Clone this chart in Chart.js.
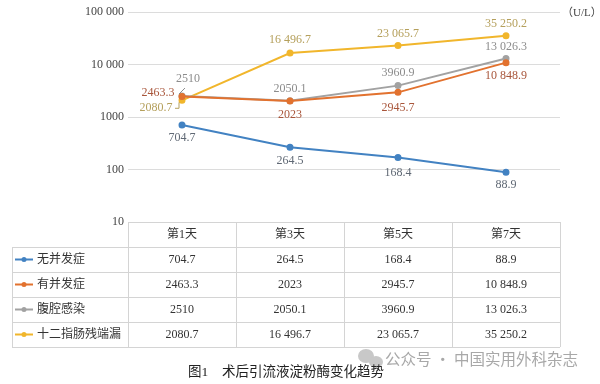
<!DOCTYPE html>
<html>
<head>
<meta charset="utf-8">
<script src="https://cdn.jsdelivr.net/npm/chart.js@4.4.1/dist/chart.umd.min.js"></script>
<style>
  html, body { margin: 0; padding: 0; background: #fff; }
  #wrap { width: 600px; height: 384px; position: relative; }
</style>
</head>
<body>
<div id="wrap"><canvas id="amyChart" width="600" height="384"></canvas></div>
<script>
// data
const days = ['第1天', '第3天', '第5天', '第7天'];
const seriesNames = ['无并发症', '有并发症', '腹腔感染', '十二指肠残端漏'];
const noComplication = [704.7, 264.5, 168.4, 88.9];
const withComplication = [2463.3, 2023, 2945.7, 10848.9];
const abdominalInfection = [2510, 2050.1, 3960.9, 13026.3];
const duodenalLeak = [2080.7, 16496.7, 23065.7, 35250.2];
const yTicks = [10, 100, 1000, 10000, 100000];

// styling
const lineColors = ['#4282c2', '#e2722f', '#a2a2a2', '#f1b62c'];
const labelColors = ['#5f6874', '#a8553a', '#8c8c8c', '#b5a05c'];
// label offsets (dx, dy) from each point
const labelOffsets = [
  [[0, 13], [0, 14], [0, 15], [0, 13]],
  [[-24, -4], [0, 14], [0, 15], [0, 13]],
  [[6, -17], [0, -12], [0, -13], [0, -12]],
  [[-26, 8], [0, -13], [0, -12], [0, -12]]
];
const allSeries = [noComplication, withComplication, abdominalInfection, duodenalLeak];

const SERIF = '"Liberation Serif", "Noto Sans CJK SC", serif';

function fmt(v) {
  let s = String(v);
  let parts = s.split('.');
  if (Math.abs(v) >= 10000) {
    parts[0] = parts[0].replace(/\B(?=(\d{3})+(?!\d))/g, ' ');
  }
  return parts.join('.');
}

const tablePlugin = {
  id: 'tableAndLabels',
  afterDatasetsDraw(chart) {
    const ctx = chart.ctx;
    const x = chart.scales.x;
    const area = chart.chartArea;

    // data labels
    ctx.save();
    ctx.font = '12px ' + SERIF;
    ctx.textAlign = 'center';
    ctx.textBaseline = 'middle';
    chart.data.datasets.forEach((ds, i) => {
      const meta = chart.getDatasetMeta(i);
      meta.data.forEach((pt, j) => {
        const off = labelOffsets[i][j];
        ctx.fillStyle = labelColors[i];
        ctx.fillText(fmt(ds.data[j]), pt.x + off[0], pt.y + off[1]);
      });
    });
    // leader lines at day 1
    ctx.lineWidth = 1;
    const g0 = chart.getDatasetMeta(2).data[0];
    ctx.strokeStyle = '#8c8c8c';
    ctx.beginPath();
    ctx.moveTo(g0.x - 3, g0.y - 2);
    ctx.lineTo(g0.x + 3, g0.y - 8);
    ctx.stroke();
    const y0 = chart.getDatasetMeta(3).data[0];
    ctx.strokeStyle = '#b5a05c';
    ctx.beginPath();
    ctx.moveTo(y0.x - 7, y0.y + 8);
    ctx.lineTo(y0.x - 3, y0.y + 8);
    ctx.lineTo(y0.x - 3, y0.y + 2);
    ctx.stroke();
    ctx.restore();

    // data table
    const colW = (area.right - area.left) / days.length;
    const rowH = 25;
    const top = area.bottom;
    const tLeft = 12;
    const rows = seriesNames.length + 1;
    ctx.save();
    ctx.strokeStyle = '#d4d4d4';
    ctx.lineWidth = 1;
    ctx.beginPath();
    ctx.moveTo(area.left, top + 0.5);
    ctx.lineTo(area.right, top + 0.5);
    for (let r = 1; r <= rows; r++) {
      const yy = Math.round(top + r * rowH) + 0.5;
      ctx.moveTo(tLeft, yy);
      ctx.lineTo(area.right, yy);
    }
    ctx.moveTo(tLeft + 0.5, top + rowH);
    ctx.lineTo(tLeft + 0.5, top + rows * rowH);
    for (let c = 0; c <= days.length; c++) {
      const xx = Math.round(area.left + c * colW) + 0.5;
      ctx.moveTo(xx, top);
      ctx.lineTo(xx, top + rows * rowH);
    }
    ctx.stroke();

    ctx.font = '12px ' + SERIF;
    ctx.textBaseline = 'middle';
    ctx.fillStyle = '#333';
    ctx.textAlign = 'center';
    days.forEach((d, j) => {
      ctx.fillText(d, x.getPixelForValue(j), top + rowH / 2);
    });
    seriesNames.forEach((name, i) => {
      const cy = top + rowH * (i + 1) + rowH / 2;
      ctx.strokeStyle = lineColors[i];
      ctx.lineWidth = 2;
      ctx.beginPath();
      ctx.moveTo(15, cy);
      ctx.lineTo(33, cy);
      ctx.stroke();
      ctx.fillStyle = lineColors[i];
      ctx.beginPath();
      ctx.arc(24, cy, 2.5, 0, Math.PI * 2);
      ctx.fill();
      ctx.fillStyle = '#333';
      ctx.textAlign = 'left';
      ctx.fillText(name, 37, cy);
      ctx.textAlign = 'center';
      allSeries[i].forEach((v, j) => {
        ctx.fillText(fmt(v), x.getPixelForValue(j), cy);
      });
    });

    // unit
    ctx.textAlign = 'left';
    ctx.fillStyle = '#444';
    ctx.font = '11px ' + SERIF;
    ctx.fillText('（U/L）', 562, area.top + 1);

    // watermark
    ctx.fillStyle = '#c8c8c8';
    ctx.beginPath();
    ctx.ellipse(366, 356, 8, 7, 0, 0, Math.PI * 2);
    ctx.fill();
    ctx.beginPath();
    ctx.ellipse(376, 362, 7, 6, 0, 0, Math.PI * 2);
    ctx.fill();
    ctx.fillStyle = '#a8a8a8';
    ctx.font = '15.5px "Noto Sans CJK SC", sans-serif';
    ctx.fillText('公众号 · 中国实用外科杂志', 385, 359);

    // caption
    ctx.fillStyle = '#222';
    ctx.font = '13.5px ' + SERIF;
    ctx.fillText('图1', 188, 372);
    ctx.fillText('术后引流液淀粉酶变化趋势', 222, 372);
    ctx.restore();
  }
};

const ctx = document.getElementById('amyChart').getContext('2d');
const chart = new Chart(ctx, {
  type: 'line',
  data: {
    labels: days,
    datasets: allSeries.map((d, i) => ({
      label: seriesNames[i],
      data: d,
      borderColor: lineColors[i],
      backgroundColor: lineColors[i],
      borderWidth: 2,
      pointRadius: 2.5,
      pointHoverRadius: 2.5,
      tension: 0
    }))
  },
  options: {
    responsive: false,
    animation: false,
    layout: { padding: { left: 0, right: 40, top: 12, bottom: 162 } },
    plugins: {
      legend: { display: false },
      tooltip: { enabled: false }
    },
    scales: {
      x: {
        type: 'category',
        offset: true,
        display: false
      },
      y: {
        type: 'logarithmic',
        min: 10,
        max: 100000,
        afterBuildTicks(scale) {
          scale.ticks = yTicks.map(v => ({ value: v }));
        },
        afterFit(scale) {
          scale.width = 128;
        },
        border: { display: false },
        grid: {
          color: '#dcdcdc',
          lineWidth: 1,
          drawTicks: false
        },
        ticks: {
          padding: 4,
          color: '#444',
          font: { family: SERIF, size: 12 },
          callback: v => fmt(v)
        }
      }
    }
  },
  plugins: [tablePlugin]
});
</script>
</body>
</html>
